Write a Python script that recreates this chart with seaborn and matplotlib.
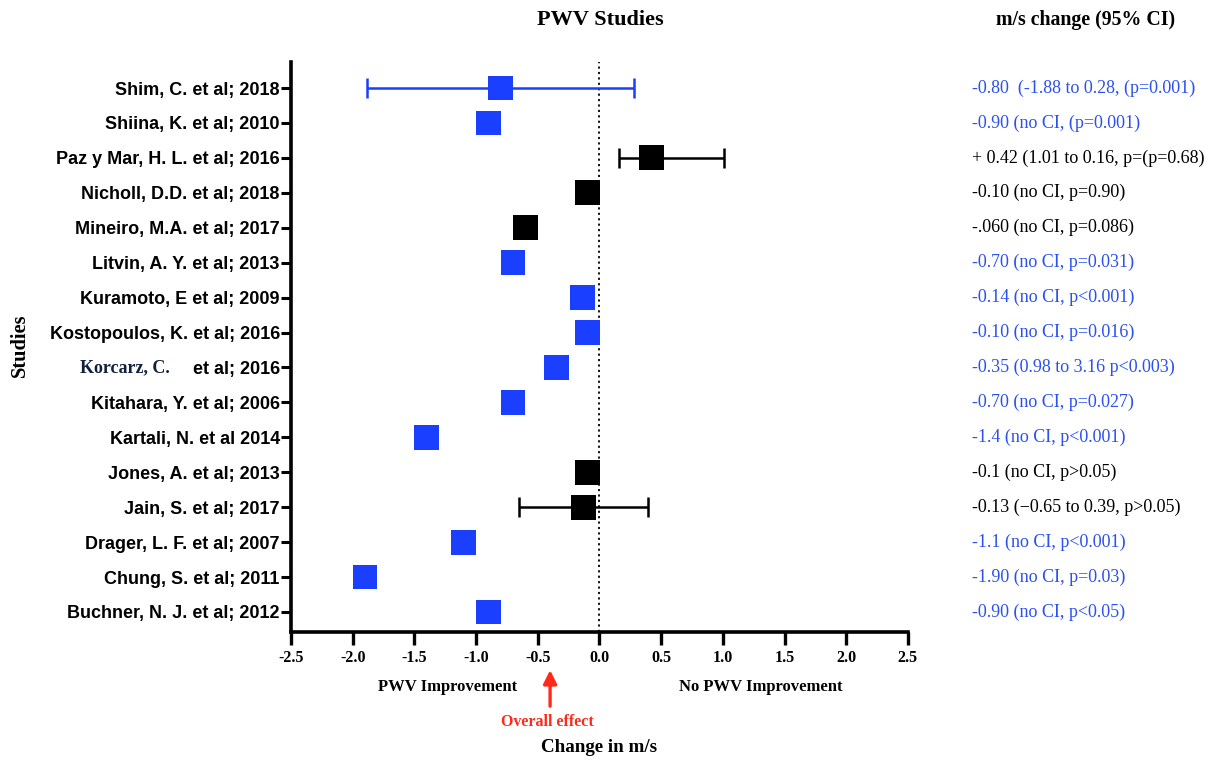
import numpy as np
import pandas as pd
import matplotlib
matplotlib.use("Agg")
import matplotlib.pyplot as plt
import seaborn as sns

studies = ["Shim, C. et al; 2018", "Shiina, K. et al; 2010", "Paz y Mar, H. L. et al; 2016",
           "Nicholl, D.D. et al; 2018", "Mineiro, M.A. et al; 2017", "Litvin, A. Y. et al; 2013",
           "Kuramoto, E et al; 2009", "Kostopoulos, K. et al; 2016", "et al; 2016",
           "Kitahara, Y. et al; 2006", "Kartali, N. et al 2014", "Jones, A. et al; 2013",
           "Jain, S. et al; 2017", "Drager, L. F. et al; 2007", "Chung, S. et al; 2011",
           "Buchner, N. J. et al; 2012"]
effect = [-0.80, -0.90, 0.42, -0.10, -0.60, -0.70, -0.14, -0.10, -0.35, -0.70, -1.40, -0.10,
          -0.13, -1.10, -1.90, -0.90]
ci_low = [-1.88, np.nan, 0.16, np.nan, np.nan, np.nan, np.nan, np.nan, np.nan, np.nan, np.nan,
          np.nan, -0.65, np.nan, np.nan, np.nan]
ci_high = [0.28, np.nan, 1.01, np.nan, np.nan, np.nan, np.nan, np.nan, np.nan, np.nan, np.nan,
           np.nan, 0.39, np.nan, np.nan, np.nan]
significant = [True, True, False, False, False, True, True, True, True, True, True, False,
               False, True, True, True]
annotations = ["-0.80  (-1.88 to 0.28, (p=0.001)", "-0.90 (no CI, (p=0.001)",
               "+ 0.42 (1.01 to 0.16, p=(p=0.68)", "-0.10 (no CI, p=0.90)",
               "-.060 (no CI, p=0.086)", "-0.70 (no CI, p=0.031)", "-0.14 (no CI, p<0.001)",
               "-0.10 (no CI, p=0.016)", "-0.35 (0.98 to 3.16 p<0.003)",
               "-0.70 (no CI, p=0.027)", "-1.4 (no CI, p<0.001)", "-0.1 (no CI, p>0.05)",
               "-0.13 (\u22120.65 to 0.39, p>0.05)", "-1.1 (no CI, p<0.001)",
               "-1.90 (no CI, p=0.03)", "-0.90 (no CI, p<0.05)"]
xticks = [-2.5, -2.0, -1.5, -1.0, -0.5, 0.0, 0.5, 1.0, 1.5, 2.0, 2.5]
overall_effect = -0.40

BLUE = "#1a3fff"
TXT_BLUE = "#2b50f0"

sns.set_style("white")
plt.rcParams["font.family"] = ["Liberation Serif", "DejaVu Serif"]
plt.rcParams["text.color"] = "black"
plt.rcParams["xtick.color"] = "black"
plt.rcParams["ytick.color"] = "black"
plt.rcParams["xtick.labelcolor"] = "black"
plt.rcParams["ytick.labelcolor"] = "black"

df = pd.DataFrame({"study": studies, "effect": effect, "lo": ci_low, "hi": ci_high,
                   "sig": significant, "pos": np.arange(len(studies))})
df["group"] = np.where(df["sig"], "sig", "ns")

fig = plt.figure(figsize=(12.21, 7.62), dpi=100)
ax = fig.add_axes([0.2383, 0.1706, 0.5053, 0.748])

# dotted zero line
ax.axvline(0, color="black", linestyle=(0, (1.2, 1.8)), linewidth=1.3, zorder=1)

# error bars
for _, r in df.dropna(subset=["lo"]).iterrows():
    c = BLUE if r["sig"] else "black"
    ax.errorbar(r["effect"], r["pos"], xerr=[[r["effect"] - r["lo"]], [r["hi"] - r["effect"]]],
                fmt="none", ecolor=c, elinewidth=1.8, capsize=7, capthick=1.8, zorder=2)

sns.scatterplot(data=df, x="effect", y="pos", hue="group", palette={"sig": BLUE, "ns": "black"},
                marker="s", s=320, edgecolor="none", legend=False, ax=ax, zorder=3)

ax.set_xlim(-2.5, 2.5)
ax.set_ylim(len(studies) - 1 + 0.573, -0.744)
ax.set_xticks(xticks)
ax.set_xticklabels([f"{t:.1f}" for t in xticks], fontsize=11.5, fontweight="bold",
                   family=["Liberation Serif"], color="black")
ax.set_yticks(df["pos"])
ax.set_yticklabels(studies, fontsize=13, fontweight="bold", family=["Liberation Sans"],
                   color="black")
ax.set_xlabel("")
ax.set_ylabel("")

for s in ["top", "right"]:
    ax.spines[s].set_visible(False)
for s in ["left", "bottom"]:
    ax.spines[s].set_linewidth(2.6)
    ax.spines[s].set_color("black")
ax.tick_params(axis="x", bottom=True, direction="out", length=9, width=2.4, color="black", pad=4)
ax.tick_params(axis="y", left=True, direction="out", length=7, width=2.2, color="black", pad=1)

# Korcarz mixed-font label
ax.text(-0.342, 8, "Korcarz, C.", transform=ax.get_yaxis_transform(), ha="left", va="center",
        fontsize=13, fontweight="bold", color="#14213d", family=["Liberation Serif"])

# right annotations
for i, (t, sig) in enumerate(zip(annotations, significant)):
    ax.text(1.104, i, t, transform=ax.get_yaxis_transform(), ha="left", va="center",
            fontsize=13, color=TXT_BLUE if sig else "black", family=["Liberation Serif"])

fig.text(600 / 1221, 1 - 20 / 762, "PWV Studies", ha="center", va="center", fontsize=16,
         fontweight="bold", color="black")
fig.text(1086 / 1221, 1 - 20 / 762, "m/s change (95% CI)", ha="center", va="center",
         fontsize=14.3, fontweight="bold", color="black")
fig.text(20 / 1221, 1 - 345 / 762, "Studies", ha="center", va="center", rotation=90,
         fontsize=14.7, fontweight="bold", color="black")
fig.text(448 / 1221, 1 - 687 / 762, "PWV Improvement", ha="center", va="center", fontsize=12,
         fontweight="bold", color="black")
fig.text(761 / 1221, 1 - 687 / 762, "No PWV Improvement", ha="center", va="center",
         fontsize=12, fontweight="bold", color="black")
fig.text(547 / 1221, 1 - 722 / 762, "Overall effect", ha="center", va="center", fontsize=11.5,
         fontweight="bold", color="#ff2a1a")
fig.text(599 / 1221, 1 - 748 / 762, "Change in m/s", ha="center", va="center", fontsize=13.7,
         fontweight="bold", color="black")

# overall effect arrow
ax.annotate("", xy=(overall_effect, -0.062), xycoords=ax.get_xaxis_transform(),
            xytext=(overall_effect, -0.135), textcoords=ax.get_xaxis_transform(),
            arrowprops=dict(arrowstyle="-|>,head_length=0.8,head_width=0.4", color="#ff2a1a",
                            lw=2.4), annotation_clip=False)

fig.savefig("out.png", dpi=100)
